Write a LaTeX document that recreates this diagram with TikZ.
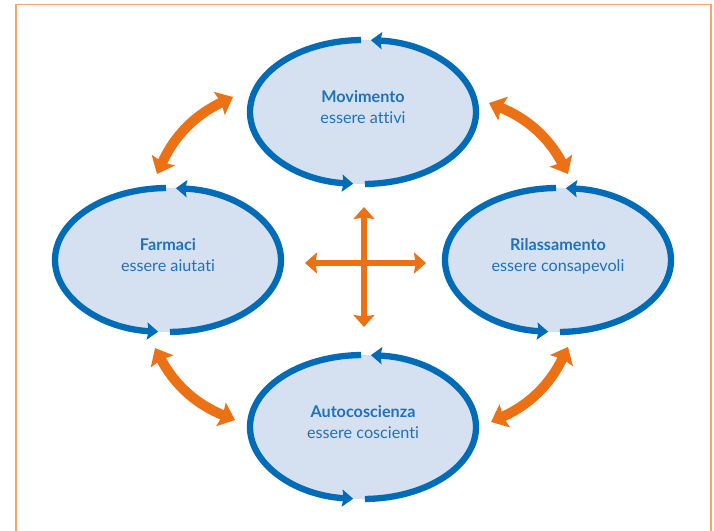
\documentclass[tikz,border=0pt]{standalone}
\usepackage{fontspec}
\setmainfont{Lato}[Ligatures={NoCommon}]
\usetikzlibrary{arrows.meta}

\definecolor{cycleblue}{HTML}{006BB6}
\definecolor{cyclefill}{HTML}{D5E1F1}
\definecolor{textblue}{HTML}{1F72BA}
\definecolor{linkorange}{HTML}{EC7014}
\definecolor{frameorange}{HTML}{F5A569}

% one ellipse of the cycle: centre x, centre y, name, title, subtitle
\newcommand{\cycleellipse}[5]{%
  \coordinate (#3) at (#1,#2);
  \fill[cyclefill] (#3) ellipse [x radius=113, y radius=72];
  \draw[cyclearc] (#3) ++(-89:113 and 72)
    arc [start angle=-89, end angle=86, x radius=113, y radius=72];
  \draw[cyclearc] (#3) ++(91:113 and 72)
    arc [start angle=91, end angle=265, x radius=113, y radius=72];
  \node[labeltext, font=\fontsize{16.2}{21}\selectfont\bfseries] (#3-title) at ([yshift=9.5pt]#3) {#4};
  \node[labeltext] (#3-sub) at ([yshift=-11.5pt]#3) {#5};
}

\begin{document}
\begin{tikzpicture}[x=1pt, y=1pt,
  cyclearc/.style={draw=cycleblue, line width=6.3pt,
    -{Stealth[length=11pt, width=17pt, inset=1.5pt]}},
  linkarrow/.style={draw=linkorange, line width=10pt,
    {Stealth[length=15pt, width=25pt, inset=2pt]}-{Stealth[length=15pt, width=25pt, inset=2pt]}},
  crossarrow/.style={draw=linkorange, line width=6.5pt,
    {Stealth[length=12pt, width=21pt, inset=1.5pt]}-{Stealth[length=12pt, width=21pt, inset=1.5pt]}},
  labeltext/.style={text=textblue, anchor=base, inner sep=0pt, font=\fontsize{16.2}{21}\selectfont}
]
\useasboundingbox (0,0) rectangle (714,530);

% open frame
\draw[frameorange, line width=1.6pt] (16,-2) -- (16,525.5) -- (711,525.5) -- (711,-2);

% the four stages
\cycleellipse{363}{418}{mov}{Movimento}{essere attivi}
\cycleellipse{168}{270}{farm}{Farmaci}{essere aiutati}
\cycleellipse{558}{270}{rel}{Rilassamento}{essere consapevoli}
\cycleellipse{363}{103}{auto}{Autocoscienza}{essere coscienti}

% ends of the curved links
\coordinate (tlA) at (157,356);
\coordinate (tlB) at (233,433);
\coordinate (trA) at (489,427);
\coordinate (trB) at (568,356);
\coordinate (brA) at (568,183);
\coordinate (brB) at (491,108);
\coordinate (blA) at (235,110);
\coordinate (blB) at (155,182);

\draw[linkarrow] (tlA) to[bend left=20] (tlB);
\draw[linkarrow] (trA) to[bend left=20] (trB);
\draw[linkarrow] (brA) to[bend left=20] (brB);
\draw[linkarrow] (blA) to[bend left=20] (blB);

% central cross
\coordinate (cN) at (364,323);
\coordinate (cS) at (364,203);
\coordinate (cW) at (305,267);
\coordinate (cE) at (426,267);
\draw[crossarrow] (cS) -- (cN);
\draw[crossarrow] (cW) -- (cE);
\end{tikzpicture}
\end{document}
